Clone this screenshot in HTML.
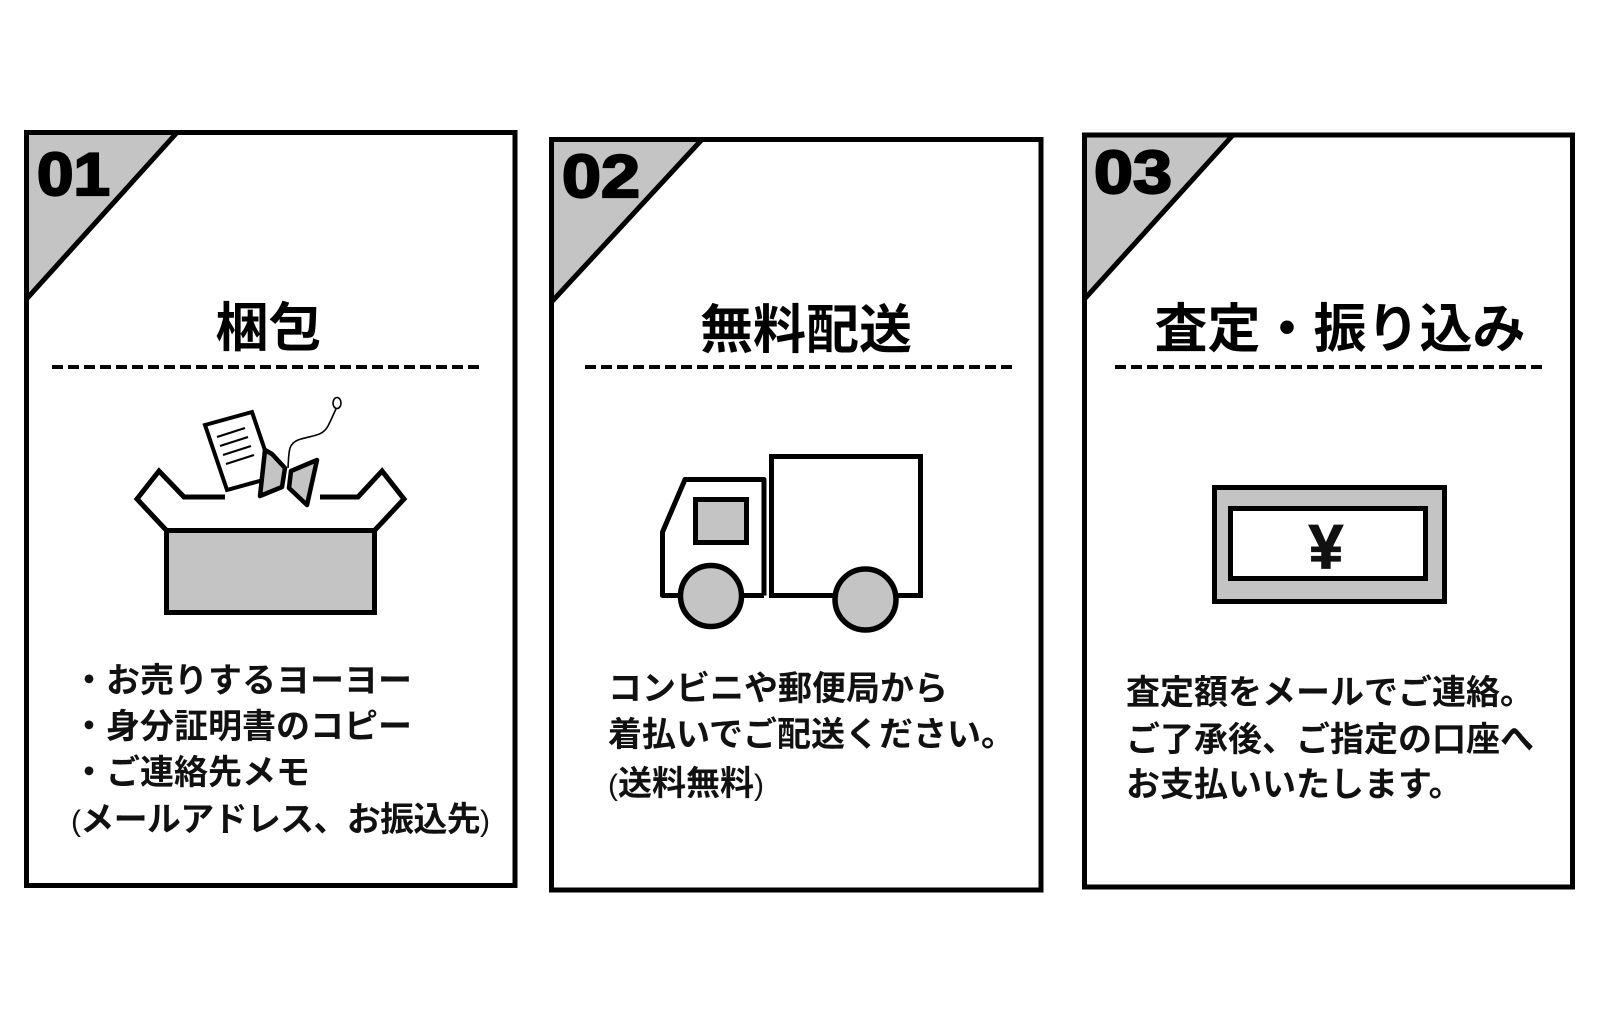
<!DOCTYPE html>
<html>
<head>
<meta charset="utf-8">
<style>
  html, body { margin:0; padding:0; background:#ffffff; }
  body { width:1600px; height:1024px; overflow:hidden; }
  svg { display:block; }
  .num { font-family:"Liberation Sans", sans-serif; font-weight:700; font-size:60px; fill:#000; stroke:#000; stroke-width:2.2px; }
  .title { font-family:"Liberation Sans","Noto Sans CJK JP",sans-serif; font-weight:700; font-size:53px; fill:#000; }
  .body { font-family:"Liberation Sans","Noto Sans CJK JP",sans-serif; font-weight:700; font-size:34px; fill:#111; }
  .par { font-family:"Liberation Sans",sans-serif; font-weight:400; font-size:30px; }
</style>
</head>
<body>
<svg width="1600" height="1024" viewBox="0 0 1600 1024" xmlns="http://www.w3.org/2000/svg">
  <rect x="0" y="0" width="1600" height="1024" fill="#ffffff"/>

  <!-- ===== Card 1 ===== -->
  <rect x="26.5" y="132.5" width="488.5" height="753" fill="#fff" stroke="#000" stroke-width="5"/>
  <polygon points="26.5,132.5 177,132.5 26.5,299" fill="#c4c4c4" stroke="#000" stroke-width="5" stroke-linejoin="miter"/>
  <text class="num" x="37" y="195" textLength="73" lengthAdjust="spacingAndGlyphs">01</text>
  <text class="title" x="268.5" y="346" text-anchor="middle">梱包</text>
  <line x1="52" y1="367" x2="479" y2="367" stroke="#000" stroke-width="4" stroke-dasharray="11 5"/>

  <!-- box icon -->
  <rect x="166.5" y="530.5" width="208" height="82" fill="#c4c4c4" stroke="#000" stroke-width="5"/>
  <polyline points="166.5,530.5 137,499 159,471 184,497 225,497" fill="none" stroke="#000" stroke-width="5" stroke-linejoin="miter"/>
  <polyline points="374.5,530.5 404,499 382,471 358,497 320,497" fill="none" stroke="#000" stroke-width="5" stroke-linejoin="miter"/>
  <!-- paper -->
  <polygon points="205,425 252,412 274,477 227,490" fill="#fff" stroke="#000" stroke-width="4" stroke-linejoin="miter"/>
  <line x1="217" y1="437" x2="245" y2="428" stroke="#000" stroke-width="2.2"/>
  <line x1="220" y1="446" x2="248" y2="437" stroke="#000" stroke-width="2.2"/>
  <line x1="223" y1="455" x2="251" y2="446" stroke="#000" stroke-width="2.2"/>
  <line x1="226" y1="464" x2="254" y2="455" stroke="#000" stroke-width="2.2"/>
  <!-- gray pieces -->
  <polygon points="265,450 272,454 285,468 282,487 260,496" fill="#c4c4c4" stroke="#000" stroke-width="4.5" stroke-linejoin="round"/>
  <polygon points="291,471 317,460 307,505 289,488" fill="#c4c4c4" stroke="#000" stroke-width="4.5" stroke-linejoin="round"/>
  <!-- string + balloon -->
  <path d="M288,468 C289,452 288,444 298,440 C312,435 322,437 328,426 C332,418 334,413 336,409" fill="none" stroke="#000" stroke-width="1.6"/>
  <ellipse cx="337" cy="403" rx="4" ry="5.5" fill="#fff" stroke="#000" stroke-width="1.6"/>

  <text class="body" x="72" y="692">・お売りするヨーヨー</text>
  <text class="body" x="72" y="738">・身分証明書のコピー</text>
  <text class="body" x="72" y="784">・ご連絡先メモ</text>
  <text class="body" x="71" y="831" textLength="419" lengthAdjust="spacing"><tspan class="par">(</tspan>メールアドレス、お振込先<tspan class="par">)</tspan></text>

  <!-- ===== Card 2 ===== -->
  <rect x="551.5" y="139.5" width="489.5" height="750.5" fill="#fff" stroke="#000" stroke-width="5"/>
  <polygon points="551.5,139.5 702,139.5 551.5,302" fill="#c4c4c4" stroke="#000" stroke-width="5" stroke-linejoin="miter"/>
  <text class="num" x="562" y="197" textLength="78" lengthAdjust="spacingAndGlyphs">02</text>
  <text class="title" x="806" y="348" text-anchor="middle">無料配送</text>
  <line x1="585" y1="367" x2="1013" y2="367" stroke="#000" stroke-width="4" stroke-dasharray="11 5"/>

  <!-- truck -->
  <polyline points="764,595.5 764,479.5 685,479.5 662.5,532 662.5,595.5 764,595.5" fill="#fff" stroke="#000" stroke-width="5" stroke-linejoin="round"/>
  <rect x="695.5" y="499.5" width="51" height="43" fill="#c4c4c4" stroke="#000" stroke-width="5"/>
  <rect x="771.5" y="456.5" width="149" height="139" fill="#fff" stroke="#000" stroke-width="5"/>
  <circle cx="711" cy="596" r="30.5" fill="#c4c4c4" stroke="#000" stroke-width="5.5"/>
  <circle cx="865.5" cy="599.5" r="30.5" fill="#c4c4c4" stroke="#000" stroke-width="5.5"/>

  <text class="body" x="608" y="700">コンビニや郵便局から</text>
  <text class="body" x="608" y="746">着払いでご配送ください。</text>
  <text class="body" x="608" y="795"><tspan class="par">(</tspan>送料無料<tspan class="par">)</tspan></text>

  <!-- ===== Card 3 ===== -->
  <rect x="1084.5" y="135" width="488" height="752" fill="#fff" stroke="#000" stroke-width="5"/>
  <polygon points="1084.5,135 1233,135 1084.5,299" fill="#c4c4c4" stroke="#000" stroke-width="5" stroke-linejoin="miter"/>
  <text class="num" x="1094" y="193" textLength="78" lengthAdjust="spacingAndGlyphs">03</text>
  <text class="title" x="1340" y="347" text-anchor="middle">査定・振り込み</text>
  <line x1="1115" y1="367" x2="1547" y2="367" stroke="#000" stroke-width="4" stroke-dasharray="11 5"/>

  <!-- yen bill -->
  <rect x="1214.5" y="487.5" width="230" height="114" fill="#c4c4c4" stroke="#000" stroke-width="5"/>
  <rect x="1230.5" y="508.5" width="195" height="70" fill="#fff" stroke="#000" stroke-width="5"/>
  <text x="1326" y="568" text-anchor="middle" font-family="Liberation Sans, sans-serif" font-weight="700" font-size="62" fill="#111" stroke="#111" stroke-width="1.2">¥</text>

  <text class="body" x="1126" y="704">査定額をメールでご連絡。</text>
  <text class="body" x="1126" y="751">ご了承後、ご指定の口座へ</text>
  <text class="body" x="1126" y="796">お支払いいたします。</text>
</svg>
</body>
</html>
